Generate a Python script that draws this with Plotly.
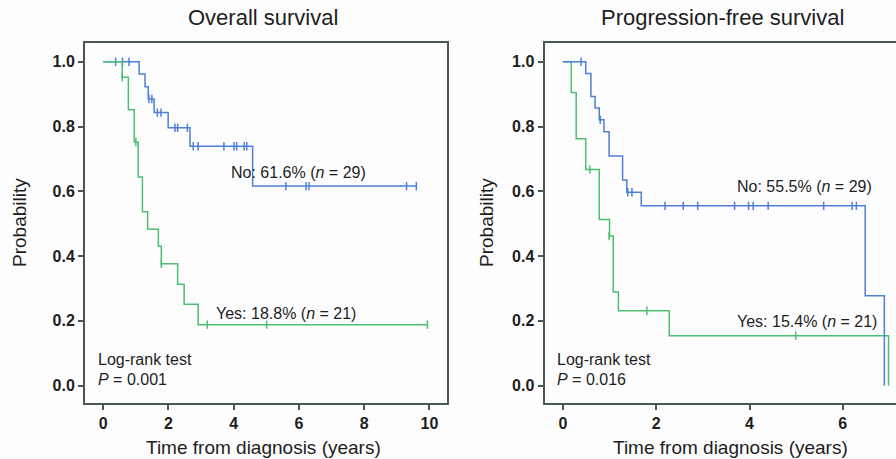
import plotly.graph_objects as go

# ---------------- Data ----------------
# Overall survival, "No" group (blue)
os_no_times = [0, 1.10, 1.28, 1.38, 1.56, 1.99, 2.66, 4.58, 9.60]
os_no_surv = [1.0, 0.962, 0.923, 0.885, 0.843, 0.796, 0.739, 0.616, 0.616]
os_no_cens_t = [0.38, 0.59, 0.79, 1.40, 1.49, 1.66, 1.77, 2.20, 2.28, 2.58, 2.76, 2.91,
                3.70, 4.01, 4.09, 4.32, 4.40, 5.60, 6.22, 6.31, 9.30, 9.60]
os_no_cens_s = [1.0, 1.0, 1.0, 0.885, 0.885, 0.843, 0.843, 0.796, 0.796, 0.796, 0.739, 0.739,
                0.739, 0.739, 0.739, 0.739, 0.739, 0.616, 0.616, 0.616, 0.616, 0.616]

# Overall survival, "Yes" group (green)
os_yes_times = [0, 0.58, 0.77, 0.95, 1.07, 1.20, 1.36, 1.69, 1.78, 2.28, 2.48, 2.91, 9.94]
os_yes_surv = [1.0, 0.952, 0.852, 0.752, 0.644, 0.537, 0.483, 0.430, 0.376, 0.313, 0.251, 0.188, 0.188]
os_yes_cens_t = [0.58, 1.00, 1.78, 3.19, 5.01, 9.94]
os_yes_cens_s = [0.952, 0.752, 0.376, 0.188, 0.188, 0.188]

# Progression-free survival, "No" group (blue)
pfs_no_times = [0, 0.49, 0.60, 0.69, 0.78, 0.88, 0.99, 1.28, 1.37, 1.68, 6.48, 6.89]
pfs_no_surv = [1.0, 0.964, 0.893, 0.857, 0.821, 0.784, 0.709, 0.635, 0.597, 0.555, 0.277, 0.0]
pfs_no_cens_t = [0.39, 0.80, 1.39, 1.48, 2.19, 2.58, 2.89, 3.68, 3.98, 4.08, 4.40, 5.59, 6.20, 6.29]
pfs_no_cens_s = [1.0, 0.821, 0.597, 0.597, 0.555, 0.555, 0.555, 0.555, 0.555, 0.555, 0.555,
                 0.555, 0.555, 0.555]

# Progression-free survival, "Yes" group (green)
pfs_yes_times = [0, 0.18, 0.285, 0.49, 0.78, 1.00, 1.08, 1.19, 2.28, 6.98]
pfs_yes_surv = [1.0, 0.905, 0.762, 0.667, 0.513, 0.462, 0.289, 0.231, 0.154, 0.0]
pfs_yes_cens_t = [0.58, 0.99, 1.80, 4.99]
pfs_yes_cens_s = [0.667, 0.462, 0.231, 0.154]

y_ticks = [0.0, 0.2, 0.4, 0.6, 0.8, 1.0]
y_tick_labels = ["0.0", "0.2", "0.4", "0.6", "0.8", "1.0"]
os_x_ticks = [0, 2, 4, 6, 8, 10]
pfs_x_ticks = [0, 2, 4, 6]

titles = ["Overall survival", "Progression-free survival"]
os_labels = ["No: 61.6% (<i>n</i> = 29)", "Yes: 18.8% (<i>n</i> = 21)"]
pfs_labels = ["No: 55.5% (<i>n</i> = 29)", "Yes: 15.4% (<i>n</i> = 21)"]
os_p = "<i>P</i> = 0.001"
pfs_p = "<i>P</i> = 0.016"

BLUE = "#4f7fd6"
GREEN = "#4cbf72"
FRAME = "#4a5656"
TXT = "#1e1e1e"
FONT = "Liberation Sans, Arial, sans-serif"

fig = go.Figure()


def add_curve(times, surv, ct, cs, color, xa, ya):
    fig.add_trace(go.Scatter(x=times, y=surv, mode="lines", line=dict(color=color, width=1.5, shape="hv"),
                             xaxis=xa, yaxis=ya, showlegend=False, hoverinfo="skip"))
    fig.add_trace(go.Scatter(x=ct, y=cs, mode="markers",
                             marker=dict(symbol="line-ns-open", size=6, color=color,
                                         line=dict(color=color, width=1.5)),
                             xaxis=xa, yaxis=ya, showlegend=False, hoverinfo="skip"))


add_curve(os_no_times, os_no_surv, os_no_cens_t, os_no_cens_s, BLUE, "x", "y")
add_curve(os_yes_times, os_yes_surv, os_yes_cens_t, os_yes_cens_s, GREEN, "x", "y")
add_curve(pfs_yes_times, pfs_yes_surv, pfs_yes_cens_t, pfs_yes_cens_s, GREEN, "x2", "y2")
add_curve(pfs_no_times, pfs_no_surv, pfs_no_cens_t, pfs_no_cens_s, BLUE, "x2", "y2")

W, H = 896, 459
y_dom = [(H - 403) / H, (H - 43) / H]
axis_common = dict(showgrid=False, zeroline=False, showline=True, linecolor=FRAME, linewidth=2,
                   ticks="outside", ticklen=5, tickwidth=1.5, tickcolor=FRAME,
                   tickfont=dict(family=FONT, size=16, color=TXT, weight="bold"))

fig.update_layout(
    width=W, height=H,
    margin=dict(l=0, r=0, t=0, b=0),
    paper_bgcolor="#fdfdfd", plot_bgcolor="#fdfdfe",
    font=dict(family=FONT, color=TXT),
    xaxis=dict(domain=[85 / W, 447 / W], range=[-0.56, 10.54], tickvals=os_x_ticks, mirror=True,
               anchor="y", **axis_common),
    yaxis=dict(domain=y_dom, range=[-0.054, 1.058], tickvals=y_ticks, ticktext=y_tick_labels,
               mirror=True, anchor="x", **axis_common),
    xaxis2=dict(domain=[544.5 / W, 1.0], range=[-0.394, 7.14], tickvals=pfs_x_ticks, mirror=True,
                anchor="y2", **axis_common),
    yaxis2=dict(domain=y_dom, range=[-0.054, 1.058], tickvals=y_ticks, ticktext=y_tick_labels,
                mirror=False, anchor="x2", **axis_common),
)

ann = []


def add_text(text, xpx, ypx, size, xanchor="center", angle=0):
    ann.append(dict(text=text, x=xpx / W, y=(H - ypx) / H, xref="paper", yref="paper",
                    xanchor=xanchor, yanchor="middle", textangle=angle, showarrow=False,
                    font=dict(size=size, family=FONT, color=TXT)))


# Titles
add_text(titles[0], 263, 18, 22)
add_text(titles[1], 722, 18, 22)
# Axis titles
for xc in (263, 730):
    add_text("Time from diagnosis (years)", xc, 447, 19)
for xc in (19, 486):
    add_text("Probability", xc, 223, 19, angle=-90)
# Left panel labels
add_text(os_labels[0], 229, 172, 16, "left")
add_text(os_labels[1], 214, 313, 16, "left")
add_text("Log-rank test", 96, 359, 16, "left")
add_text(os_p, 96, 379, 16, "left")
# Right panel labels
add_text(pfs_labels[0], 735, 186, 16, "left")
add_text(pfs_labels[1], 735, 321, 16, "left")
add_text("Log-rank test", 555, 359, 16, "left")
add_text(pfs_p, 555, 379, 16, "left")

fig.update_layout(annotations=ann)
fig.write_html("out.html", config={"displayModeBar": False})

# remove the browser's default page margin so the figure fills the window exactly
with open("out.html", "r", encoding="utf-8") as f:
    html = f.read()
html = html.replace("<head>", "<head><style>html,body{margin:0;padding:0;overflow:hidden;}</style>", 1)
with open("out.html", "w", encoding="utf-8") as f:
    f.write(html)
